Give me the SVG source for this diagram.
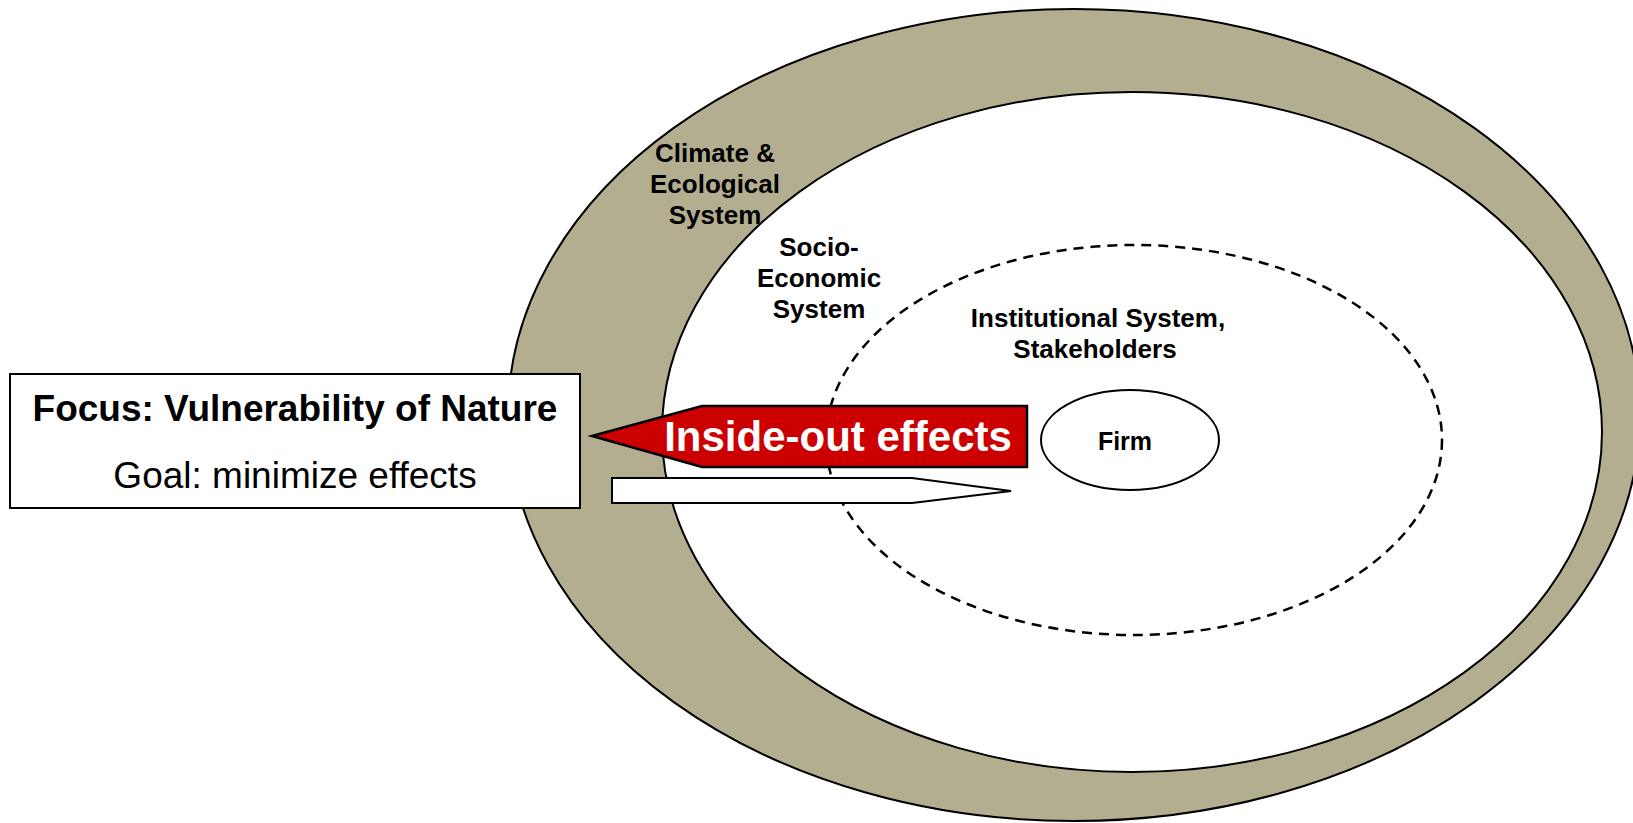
<svg xmlns="http://www.w3.org/2000/svg" width="1633" height="823" viewBox="0 0 1633 823">
<style>
.lbl{font-family:"Liberation Sans",Arial,sans-serif;font-weight:bold;fill:#000;text-anchor:middle}
.ring{stroke:#000;stroke-width:2}
</style>
<rect width="1633" height="823" fill="#fff"/>
<g id="climate">
<ellipse class="ring" cx="1074" cy="415" rx="566" ry="406" fill="#B4AE90"/>
</g>
<g id="socio">
<ellipse class="ring" cx="1132" cy="432" rx="470" ry="340" fill="#fff"/>
</g>
<g id="institutional">
<ellipse cx="1134" cy="440" rx="308" ry="195" fill="none" stroke="#000" stroke-width="2.5" stroke-dasharray="10 7"/>
</g>
<g id="firm">
<ellipse class="ring" cx="1130" cy="440" rx="89" ry="50" fill="#fff"/>
<text class="lbl" x="1125" y="450" font-size="25">Firm</text>
</g>
<g id="labels">
<text class="lbl" font-size="26"><tspan x="715" y="162">Climate &amp;</tspan><tspan x="715" y="193">Ecological</tspan><tspan x="715" y="224">System</tspan></text>
<text class="lbl" font-size="26"><tspan x="819" y="256">Socio-</tspan><tspan x="819" y="287">Economic</tspan><tspan x="819" y="318">System</tspan></text>
<text class="lbl" font-size="26"><tspan x="1098" y="327">Institutional System,</tspan><tspan x="1095" y="358">Stakeholders</tspan></text>
</g>
<g id="focus">
<rect x="10" y="374" width="570" height="134" fill="#fff" stroke="#000" stroke-width="2"/>
<text class="lbl" x="295" y="421" font-size="37">Focus: Vulnerability of Nature</text>
<text x="295" y="488" font-size="37" font-family="'Liberation Sans',Arial,sans-serif" text-anchor="middle" fill="#000">Goal: minimize effects</text>
</g>
<g id="connectors">
<polygon points="592,436 702,406 1027,406 1027,467 702,467" fill="#CC0000" stroke="#000" stroke-width="2.5" stroke-linejoin="miter"/>
<text class="lbl" x="838" y="451" font-size="42" fill="#fff" style="fill:#fff">Inside-out effects</text>
<polygon points="612,478 912,478 1011,491 912,503 612,503" fill="#fff" stroke="#000" stroke-width="2"/>
</g>
</svg>
